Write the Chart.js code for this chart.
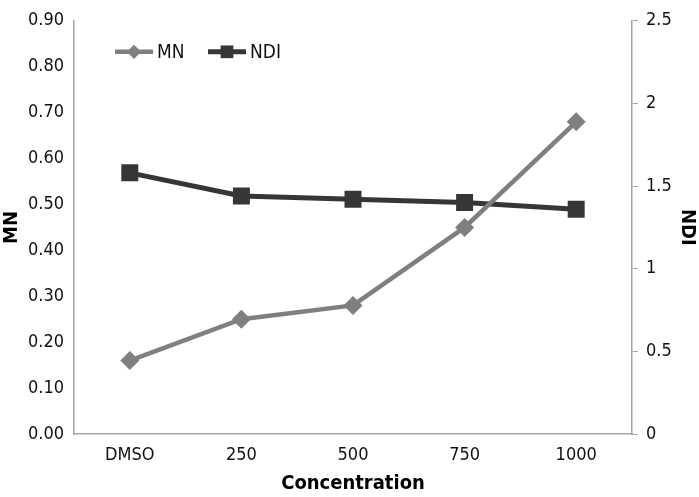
<!DOCTYPE html>
<html>
<head>
<meta charset="utf-8">
<script src="https://cdn.jsdelivr.net/npm/chart.js@4"></script>
<style>
  html, body { margin: 0; padding: 0; background: #fff; }
  #wrap { width: 699px; height: 497px; }
</style>
</head>
<body>
<div id="wrap"><canvas id="myChart" width="699" height="497"></canvas></div>
<script>
// Dữ liệu
const categories = ['DMSO', '250', '500', '750', '1000'];
const mnValues = [0.16, 0.25, 0.28, 0.45, 0.68];
const ndiValues = [1.58, 1.44, 1.42, 1.40, 1.36];

// Màu sắc
const mnColor = '#7f7f7f';
const ndiColor = '#363636';
const axisColor = '#a6a6a6';
const fontFamily = '"Liberation Sans Narrow", "DejaVu Sans Condensed", "Liberation Sans", sans-serif';

// Chú thích: đường + điểm, đặt bên trong vùng biểu đồ
const legendLines = {
    id: 'legendLines',
    afterDatasetsDraw(chart) {
        const ctx = chart.ctx;
        const area = chart.chartArea;
        const y = area.top + 31;
        const starts = [area.left + 41, area.left + 134];
        chart.data.datasets.forEach((ds, i) => {
            const x = starts[i];
            ctx.save();
            ctx.strokeStyle = ds.borderColor;
            ctx.lineWidth = ds.borderWidth;
            ctx.beginPath();
            ctx.moveTo(x, y);
            ctx.lineTo(x + 38, y);
            ctx.stroke();
            ctx.fillStyle = ds.pointBackgroundColor;
            ctx.strokeStyle = ds.pointBackgroundColor;
            Chart.helpers.drawPoint(ctx, {
                pointStyle: ds.pointStyle,
                radius: ds.pointRadius * 0.75,
                borderWidth: 0,
                rotation: 0
            }, x + 19, y);
            ctx.fillStyle = '#111';
            ctx.font = '19px ' + fontFamily;
            ctx.textBaseline = 'middle';
            ctx.textAlign = 'left';
            ctx.fillText(ds.label, x + 42, y + 1);
            ctx.restore();
        });
    }
};

const tickFont = { family: fontFamily, size: 18 };
const titleFont = { family: fontFamily, size: 20, weight: 'bold' };

const ctx = document.getElementById('myChart').getContext('2d');
const chart = new Chart(ctx, {
    type: 'line',
    data: {
        labels: categories,
        datasets: [{
            label: 'MN',
            data: mnValues,
            yAxisID: 'y',
            borderColor: mnColor,
            backgroundColor: mnColor,
            pointBackgroundColor: mnColor,
            pointBorderWidth: 0,
            borderWidth: 4.5,
            pointStyle: 'rectRot',
            pointRadius: 9.5,
            tension: 0
        }, {
            label: 'NDI',
            data: ndiValues,
            yAxisID: 'y1',
            borderColor: ndiColor,
            backgroundColor: ndiColor,
            pointBackgroundColor: ndiColor,
            pointBorderWidth: 0,
            borderWidth: 5,
            pointStyle: 'rect',
            pointRadius: 12,
            tension: 0
        }]
    },
    options: {
        responsive: false,
        animation: false,
        layout: { padding: { top: 10, left: 0, right: 0, bottom: 0 } },
        plugins: {
            legend: { display: false },
            tooltip: { enabled: false }
        },
        scales: {
            x: {
                offset: true,
                grid: { display: false, drawTicks: false },
                border: { color: axisColor, width: 1.5 },
                ticks: { font: tickFont, color: '#111', padding: 11 },
                title: { display: true, text: 'Concentration', font: titleFont, color: '#000', padding: { top: 0, bottom: 1 } },
                afterFit(scale) { scale.height = 63; }
            },
            y: {
                position: 'left',
                min: 0,
                max: 0.9,
                grid: { display: false, drawTicks: false },
                border: { color: axisColor, width: 1.5 },
                ticks: {
                    stepSize: 0.1,
                    font: tickFont,
                    color: '#111',
                    padding: 10,
                    callback: v => Number(v).toFixed(2)
                },
                title: { display: true, text: 'MN', font: titleFont, color: '#000', padding: 0 },
                afterFit(scale) { scale.width = 74; }
            },
            y1: {
                position: 'right',
                min: 0,
                max: 2.5,
                grid: { drawOnChartArea: false, drawTicks: true, tickLength: 6, color: axisColor },
                border: { color: axisColor, width: 1.5 },
                ticks: {
                    stepSize: 0.5,
                    font: tickFont,
                    color: '#111',
                    padding: 8,
                    callback: v => String(Math.round(v * 10) / 10)
                },
                title: { display: true, text: 'NDI', font: titleFont, color: '#000', padding: 0 },
                afterFit(scale) { scale.width = 67; }
            }
        }
    },
    plugins: [legendLines]
});
</script>
</body>
</html>
